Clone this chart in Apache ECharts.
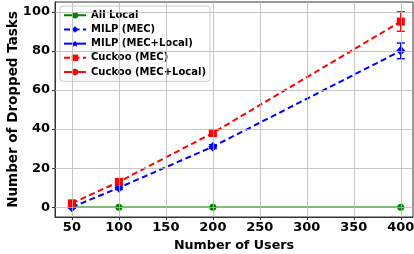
<!DOCTYPE html>
<html>
<head>
<meta charset="utf-8">
<script src="https://cdn.jsdelivr.net/npm/echarts@6/dist/echarts.min.js"></script>
<style>
  html, body { margin: 0; padding: 0; background: #fff; }
  #chart { width: 414px; height: 254px; }
</style>
</head>
<body>
<div id="chart"></div>
<script>
const users = [50, 100, 200, 400];
const allLocal = [0, 0, 0, 0];
const milpMec = [0, 10, 31, 80];
const milpMecErr = [0.5, 1, 1, 4];
const cuckooMec = [2, 13, 38, 95];
const cuckooMecErr = [1, 1, 1.5, 5];
const milpMecLocal = [];
const cuckooMecLocal = [];
const yTicks = [0, 20, 40, 60, 80, 100];
const xTicks = [50, 100, 150, 200, 250, 300, 350, 400];

const font = 'DejaVu Sans';

function pairs(vals) {
  return vals.map((v, i) => [users[i], v]);
}

// vertical error bar with caps
function errorBars(name, vals, errs, color) {
  return {
    type: 'custom',
    name: name,
    z: 3,
    data: vals.map((v, i) => [users[i], v - errs[i], v + errs[i]]),
    renderItem: function (params, api) {
      const lo = api.coord([api.value(0), api.value(1)]);
      const hi = api.coord([api.value(0), api.value(2)]);
      const w = 4;
      const style = { stroke: color, lineWidth: 1.4 };
      return {
        type: 'group',
        children: [
          { type: 'line', shape: { x1: lo[0], y1: lo[1], x2: hi[0], y2: hi[1] }, style: style },
          { type: 'line', shape: { x1: lo[0] - w, y1: lo[1], x2: lo[0] + w, y2: lo[1] }, style: style },
          { type: 'line', shape: { x1: hi[0] - w, y1: hi[1], x2: hi[0] + w, y2: hi[1] }, style: style }
        ]
      };
    }
  };
}

const chart = echarts.init(document.getElementById('chart'));
chart.setOption({
  animation: false,
  grid: {
    left: 55, right: 1, top: 2, bottom: 37,
    outerBoundsMode: 'none',
    show: true, borderColor: '#333', borderWidth: 1
  },
  legend: {
    left: 60,
    top: 6,
    orient: 'vertical',
    data: ['All Local', 'MILP (MEC)', 'MILP (MEC+Local)', 'Cuckoo (MEC)', 'Cuckoo (MEC+Local)'],
    itemWidth: 22,
    itemHeight: 8,
    itemGap: 3.7,
    padding: [4, 4, 4, 3],
    backgroundColor: 'rgba(255,255,255,0.85)',
    borderColor: '#cccccc',
    borderWidth: 1,
    borderRadius: 3,
    textStyle: { fontFamily: font, fontWeight: 'bold', fontSize: 10, lineHeight: 10.5, color: '#000' }
  },
  xAxis: {
    type: 'value',
    min: 32,
    max: 413,
    name: 'Number of Users',
    nameLocation: 'middle',
    nameGap: 18,
    nameTextStyle: { fontFamily: font, fontWeight: 'bold', fontSize: 12.7, color: '#000' },
    axisLine: { onZero: false, lineStyle: { color: '#333', width: 1 } },
    axisTick: { show: true, length: 3, lineStyle: { color: '#333' }, customValues: xTicks },
    axisLabel: {
      fontFamily: font, fontWeight: 'bold', fontSize: 13, color: '#000', margin: 4,
      customValues: xTicks
    },
    splitLine: { show: false }
  },
  yAxis: {
    type: 'value',
    min: -5,
    max: 105,
    name: 'Number of Dropped Tasks',
    nameLocation: 'middle',
    nameGap: 35,
    nameMoveOverlap: false,
    nameTextStyle: { fontFamily: font, fontWeight: 'bold', fontSize: 13.5, color: '#000' },
    axisLine: { show: true, lineStyle: { color: '#333', width: 1 } },
    axisTick: { show: true, length: 3, lineStyle: { color: '#333' }, customValues: yTicks },
    axisLabel: {
      fontFamily: font, fontWeight: 'bold', fontSize: 13, color: '#000', margin: 5,
      customValues: yTicks
    },
    splitLine: { show: false }
  },
  series: [
    // grid lines on the tick values
    {
      type: 'line',
      data: [],
      silent: true,
      markLine: {
        silent: true,
        symbol: 'none',
        label: { show: false },
        lineStyle: { color: '#b8b8b8', width: 0.8, type: 'solid' },
        data: xTicks.map(v => ({ xAxis: v })).concat(yTicks.map(v => ({ yAxis: v })))
      }
    },
    {
      name: 'All Local',
      type: 'line',
      data: pairs(allLocal),
      color: '#008000',
      symbol: 'circle',
      symbolSize: 7,
      lineStyle: { width: 1.6, type: 'solid' },
      z: 4
    },
    {
      name: 'MILP (MEC)',
      type: 'line',
      data: pairs(milpMec),
      color: '#0000ff',
      symbol: 'diamond',
      symbolSize: [9, 10],
      lineStyle: { width: 2, type: [6, 3.5] },
      z: 4
    },
    errorBars('MILP (MEC)', milpMec, milpMecErr, '#0000ff'),
    {
      name: 'MILP (MEC+Local)',
      type: 'line',
      data: milpMecLocal,
      color: '#0000ff',
      symbol: 'path://M0,-10 L2.9,-4 L9.5,-3.1 L4.8,1.5 L5.9,8.1 L0,5 L-5.9,8.1 L-4.8,1.5 L-9.5,-3.1 L-2.9,-4 Z',
      symbolSize: 6,
      lineStyle: { width: 1.6, type: 'solid' }
    },
    {
      name: 'Cuckoo (MEC)',
      type: 'line',
      data: pairs(cuckooMec),
      color: '#ff0000',
      symbol: 'rect',
      symbolSize: 8,
      lineStyle: { width: 2, type: [6, 3.5] },
      z: 4
    },
    errorBars('Cuckoo (MEC)', cuckooMec, cuckooMecErr, '#ff0000'),
    {
      name: 'Cuckoo (MEC+Local)',
      type: 'line',
      data: cuckooMecLocal,
      color: '#ff0000',
      symbol: 'circle',
      symbolSize: 6,
      lineStyle: { width: 1.6, type: 'solid' }
    }
  ]
});
</script>
</body>
</html>
